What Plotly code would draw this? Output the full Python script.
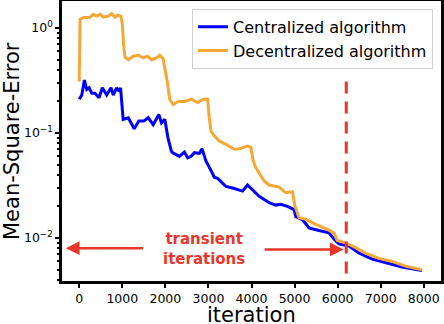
import numpy as np
import plotly.graph_objects as go

# ---------------- data ----------------
cent_iter = [0, 60, 120, 175, 230, 290, 366, 460, 537, 637, 737, 790, 868, 922, 960,
             1020, 1138, 1277, 1385, 1500, 1600, 1717, 1848, 1910, 1987, 2060, 2140,
             2170, 2326, 2442, 2519, 2597, 2674, 2789, 2851, 2944, 3060, 3137, 3213,
             3407, 3561, 3792, 3907, 4023, 4178, 4410, 4564, 4680, 4834, 4988, 5028,
             5182, 5336, 5567, 5799, 5914, 6030, 6262, 6493, 6801, 7111, 7495, 7958]
cent_mse = [0.21, 0.23, 0.32, 0.26, 0.27, 0.24, 0.24, 0.217, 0.27, 0.23, 0.27, 0.23,
            0.27, 0.25, 0.27,
            0.135, 0.14, 0.11, 0.13, 0.13, 0.14, 0.12, 0.15, 0.125, 0.135, 0.09, 0.067,
            0.065, 0.060, 0.066, 0.058, 0.060, 0.065, 0.064, 0.071, 0.054, 0.044, 0.038, 0.037,
            0.031, 0.030, 0.028, 0.032, 0.029, 0.025, 0.0217, 0.0206, 0.021, 0.020, 0.0187, 0.016,
            0.015, 0.0125, 0.0118, 0.0112, 0.0098, 0.0088, 0.0084, 0.0072, 0.0063, 0.0058, 0.0053, 0.0049]

dec_iter = [0, 20, 100, 250, 328, 400, 482, 560, 676, 752, 830, 891, 968,
            1000, 1030, 1060, 1138, 1254, 1370, 1486, 1585, 1678, 1794, 1870, 1948,
            2050, 2100, 2180, 2296, 2450, 2597, 2750, 2882, 2981, 3020, 3060, 3137,
            3252, 3407, 3600, 3715, 3907, 3986, 4040, 4100, 4294, 4410, 4641, 4796,
            4950, 5012, 5104, 5259, 5491, 5760, 5914, 5991, 6184, 6416, 6648, 6956,
            7264, 7574, 7958]
dec_mse = [0.31, 1.21, 1.26, 1.27, 1.35, 1.30, 1.35, 1.27, 1.30, 1.37, 1.27, 1.33, 1.30,
           1.10, 0.70, 0.53, 0.50, 0.54, 0.55, 0.52, 0.54, 0.50, 0.52, 0.55, 0.51,
           0.30, 0.21, 0.187, 0.20, 0.20, 0.21, 0.195, 0.21, 0.21, 0.14, 0.104, 0.094,
           0.084, 0.078, 0.070, 0.071, 0.075, 0.073, 0.054, 0.047, 0.035, 0.032, 0.0306, 0.027,
           0.0276, 0.020, 0.0156, 0.0151, 0.0135, 0.0121, 0.0112, 0.0095, 0.0090, 0.0081, 0.0072, 0.0064,
           0.0060, 0.0054, 0.0050]

transient_end = 6200
x_ticks = [0, 1000, 2000, 3000, 4000, 5000, 6000, 7000, 8000]
y_ticks = [1, 0.1, 0.01]
y_tick_text = ["10<sup>0</sup>", "10<sup>\u22121</sup>", "10<sup>\u22122</sup>"]

BLUE = "#0000ff"
ORANGE = "#f5a836"
RED = "#e8372a"
FONT = "DejaVu Sans"

fig = go.Figure()
fig.add_trace(go.Scatter(x=cent_iter, y=cent_mse, mode="lines", name="Centralized algorithm",
                         line=dict(color=BLUE, width=3)))
fig.add_trace(go.Scatter(x=dec_iter, y=dec_mse, mode="lines", name="Decentralized algorithm",
                         line=dict(color=ORANGE, width=3)))
# dashed vertical line marking end of transient iterations
fig.add_trace(go.Scatter(x=[transient_end, transient_end], y=[0.31, 0.0035], mode="lines",
                         showlegend=False, hoverinfo="skip",
                         line=dict(color=RED, width=3, dash="12px,8px")))

arrow_y = np.log10(0.0080)
fig.add_annotation(x=-312, y=arrow_y, ax=1516, ay=arrow_y, xref="x", yref="y",
                   axref="x", ayref="y", showarrow=True, arrowhead=2, arrowsize=1.1,
                   arrowwidth=2.5, arrowcolor=RED, text="")
fig.add_annotation(x=6140, y=np.log10(0.0078), ax=4270, ay=np.log10(0.0078), xref="x", yref="y",
                   axref="x", ayref="y", showarrow=True, arrowhead=2, arrowsize=1.1,
                   arrowwidth=2.5, arrowcolor=RED, text="")
fig.add_annotation(x=2900, y=np.log10(0.0078), xref="x", yref="y", showarrow=False,
                   text="<b>transient</b><br><b>iterations</b>",
                   font=dict(family=FONT, size=15, color=RED))

# axis titles as annotations for exact placement
fig.add_annotation(text="iteration", xref="paper", yref="paper", x=0.5, y=0, yshift=-34,
                   xanchor="center", yanchor="middle", showarrow=False,
                   font=dict(family=FONT, size=21, color="black"))
fig.add_annotation(text="Mean-Square-Error", xref="paper", yref="paper", x=0, xshift=-50,
                   y=0.5, xanchor="center", yanchor="middle", textangle=-90, showarrow=False,
                   font=dict(family=FONT, size=21, color="black"))

fig.update_layout(
    width=444, height=324,
    margin=dict(l=62, r=3, t=1, b=43),
    plot_bgcolor="white", paper_bgcolor="white",
    font=dict(family=FONT, color="black"),
    legend=dict(x=0.979, y=0.972, xanchor="right", yanchor="top",
                bgcolor="rgba(255,255,255,0.9)", bordercolor="#d0d0d0", borderwidth=1,
                font=dict(family=FONT, size=16, color="black"), tracegroupgap=0),
    showlegend=True,
)
fig.update_xaxes(range=[-400, 8400], tickvals=x_ticks, ticks="outside", ticklen=4, tickwidth=1.5,
                 tickcolor="black", showline=True, linecolor="black", linewidth=2.5, mirror=True,
                 showgrid=False, zeroline=False, tickfont=dict(family=FONT, size=12.5),
                 automargin=False)
fig.update_yaxes(type="log", range=[np.log10(0.0039), np.log10(1.81)], tickvals=y_ticks,
                 ticktext=y_tick_text, ticks="outside", ticklen=4, tickwidth=1.5, tickcolor="black",
                 showline=True, linecolor="black", linewidth=2.5, mirror=True, showgrid=False,
                 zeroline=False, tickfont=dict(family=FONT, size=12.5), automargin=False,
                 minor=dict(ticks="outside", ticklen=2.5, tickcolor="black", dtick="D1", showgrid=False))

fig.write_html("out.html", config={"displayModeBar": False},
               post_script="document.body.style.margin='0px';document.body.style.overflow='hidden';")
